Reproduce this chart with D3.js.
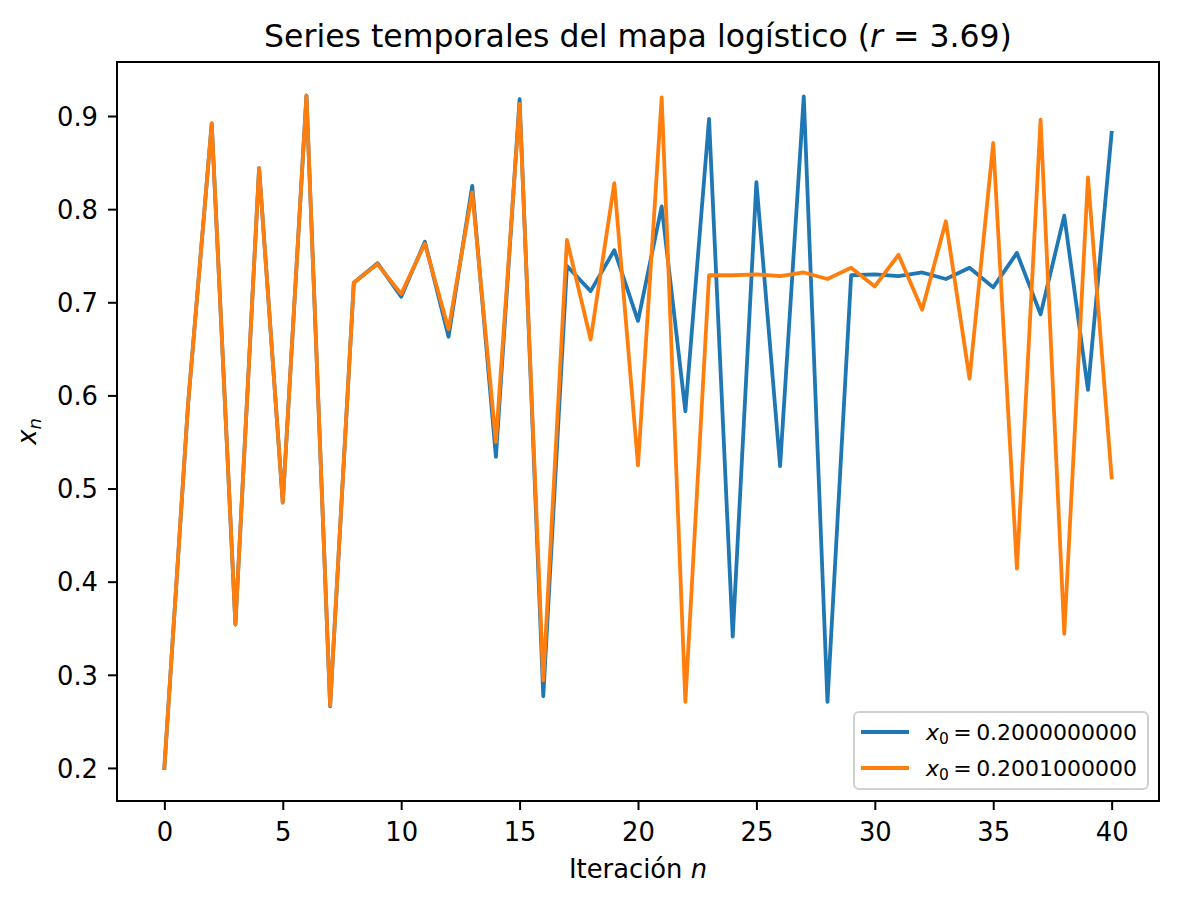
<!DOCTYPE html>
<html>
<head>
<meta charset="utf-8">
<script src="https://cdn.jsdelivr.net/npm/d3@7"></script>
<style>
  html, body { margin: 0; padding: 0; background: #fff; }
  svg { display: block; font-family: "DejaVu Sans", sans-serif; }
</style>
</head>
<body>
<svg id="chart" width="1177" height="902"></svg>
<script>
// ---- data ----
const iterations = d3.range(0, 41);
const seriesA = [0.200, 0.590, 0.892, 0.354, 0.844, 0.485, 0.922, 0.266, 0.721, 0.742,
                 0.706, 0.765, 0.663, 0.825, 0.534, 0.918, 0.277, 0.739, 0.712, 0.756,
                 0.680, 0.803, 0.583, 0.897, 0.341, 0.829, 0.524, 0.921, 0.271, 0.729,
                 0.730, 0.728, 0.732, 0.725, 0.737, 0.716, 0.753, 0.687, 0.793, 0.606,
                 0.882];
const seriesB = [0.2001, 0.5905, 0.892, 0.354, 0.844, 0.485, 0.922, 0.267, 0.721, 0.741,
                 0.709, 0.763, 0.671, 0.818, 0.550, 0.913, 0.294, 0.767, 0.660, 0.828,
                 0.525, 0.920, 0.271, 0.729, 0.729, 0.730, 0.728, 0.732, 0.725, 0.737,
                 0.717, 0.751, 0.692, 0.787, 0.618, 0.871, 0.414, 0.896, 0.344, 0.834,
                 0.512];
const seriesLabels = ["0.2000000000", "0.2001000000"];
const seriesColors = ["#1f77b4", "#ff7f0e"];
const xTicks = [0, 5, 10, 15, 20, 25, 30, 35, 40];
const yTicks = [0.2, 0.3, 0.4, 0.5, 0.6, 0.7, 0.8, 0.9];

// ---- layout ----
const svg = d3.select("#chart");
const L = 117, R = 1159, T = 62, B = 801;
const FS = 25.8;

const x = d3.scaleLinear().domain([-2, 42]).range([L, R]);
const y = d3.scaleLinear().domain([0.1645, 0.958]).range([B, T]);

// lines
const line = d3.line().x((d, i) => x(iterations[i])).y(d => y(d));
[seriesA, seriesB].forEach((s, k) => {
  svg.append("path")
    .datum(s)
    .attr("d", line)
    .attr("fill", "none")
    .attr("stroke", seriesColors[k])
    .attr("stroke-width", 3.8)
    .attr("stroke-linejoin", "round")
    .attr("stroke-linecap", "square");
});

// axes
const xAxis = d3.axisBottom(x).tickValues(xTicks).tickFormat(d3.format("d"))
  .tickSizeInner(9).tickSizeOuter(0).tickPadding(8);
const yAxis = d3.axisLeft(y).tickValues(yTicks).tickFormat(d3.format(".1f"))
  .tickSizeInner(9).tickSizeOuter(0).tickPadding(8);

const gx = svg.append("g").attr("transform", `translate(0,${B})`).call(xAxis);
const gy = svg.append("g").attr("transform", `translate(${L},0)`).call(yAxis);
[gx, gy].forEach(g => {
  g.select(".domain").remove();
  g.selectAll(".tick line").attr("stroke", "#000").attr("stroke-width", 2);
  g.selectAll(".tick text").attr("fill", "#000")
    .style("font-family", "DejaVu Sans").style("font-size", FS + "px");
});
gx.selectAll(".tick text").attr("dy", null).attr("y", 40);
gy.selectAll(".tick text").attr("dy", "0.36em").attr("x", -19);

// frame
svg.append("rect")
  .attr("x", L).attr("y", T).attr("width", R - L).attr("height", B - T)
  .attr("fill", "none").attr("stroke", "#000").attr("stroke-width", 2);

// title
const title = svg.append("text")
  .attr("x", (L + R) / 2).attr("y", 47)
  .attr("text-anchor", "middle")
  .style("font-size", "31.5px").attr("fill", "#000");
title.append("tspan").text("Series temporales del mapa logístico (");
title.append("tspan").style("font-style", "italic").text("r");
title.append("tspan").text(" = 3.69)");

// x label
const xl = svg.append("text")
  .attr("x", (L + R) / 2).attr("y", 878)
  .attr("text-anchor", "middle")
  .style("font-size", FS + "px").attr("fill", "#000");
xl.append("tspan").text("Iteración ");
xl.append("tspan").style("font-style", "italic").text("n");

// y label
const yl = svg.append("text")
  .attr("transform", `translate(36,${(T + B) / 2}) rotate(-90)`)
  .attr("text-anchor", "middle")
  .style("font-size", FS + "px").attr("fill", "#000");
yl.append("tspan").style("font-style", "italic").text("x");
yl.append("tspan").style("font-style", "italic").style("font-size", "18px")
  .attr("dy", 5).text("n");

// legend
const lg = svg.append("g");
lg.append("rect")
  .attr("x", 854).attr("y", 712).attr("width", 294).attr("height", 77)
  .attr("rx", 5).attr("ry", 5)
  .attr("fill", "#fff").attr("fill-opacity", 0.8)
  .attr("stroke", "#d0d0d0").attr("stroke-width", 2);
seriesLabels.forEach((lab, k) => {
  const yy = 732 + k * 36;
  lg.append("line")
    .attr("x1", 861).attr("x2", 909).attr("y1", yy).attr("y2", yy)
    .attr("stroke", seriesColors[k]).attr("stroke-width", 3.8);
  const t = lg.append("text")
    .attr("x", 926).attr("y", yy + 8)
    .style("font-size", "22px").attr("fill", "#000");
  t.append("tspan").style("font-style", "italic").text("x");
  t.append("tspan").style("font-size", "15.5px").attr("dy", 4).text("0");
  t.append("tspan").attr("dy", -4).text("\u2009=\u2009" + lab);
});
</script>
</body>
</html>
